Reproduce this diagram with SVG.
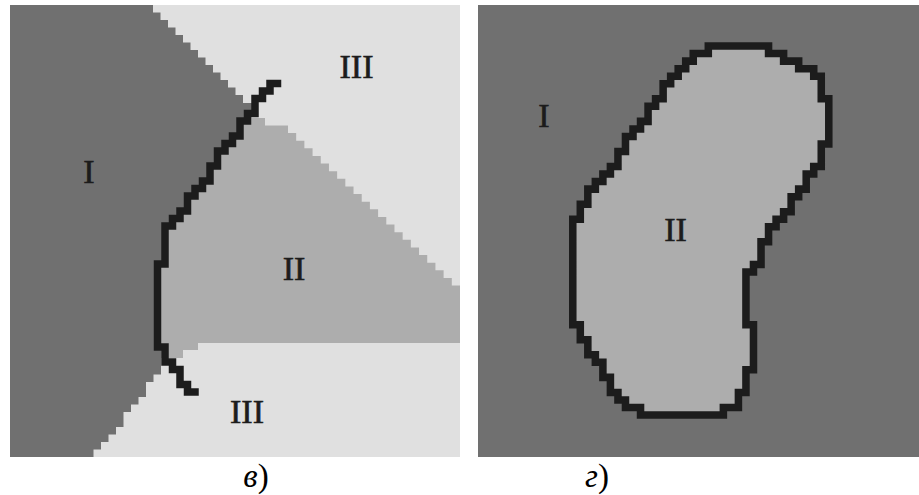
<svg xmlns="http://www.w3.org/2000/svg" width="919" height="495" viewBox="0 0 919 495">
<style>
.dark{fill:#707070}
.mid{fill:#adadad}
.light{fill:#e0e0e0}
.edge{fill:none;stroke:#1c1c1c;stroke-width:7.5;stroke-linejoin:miter;stroke-linecap:square}
.blob{fill:#adadad;stroke:#1c1c1c;stroke-width:1;stroke-linejoin:miter}
.lbl{font-family:"Liberation Serif","Times New Roman",serif;font-size:34px;fill:#1c1c1c;stroke:#1c1c1c;stroke-width:0.6;text-anchor:middle}
.cap{font-family:"Liberation Serif","Times New Roman",serif;font-size:33px;font-style:italic;fill:#000;text-anchor:middle}
.up{font-style:normal}
</style>
<rect width="919" height="495" fill="#ffffff"/>
<g id="panel-v">
  <rect class="light" x="10" y="5" width="450" height="452"/>
  <path id="region-II-left" class="mid" d="M252,118 H265 V125.5 H288 v7.62h8.19v7.62h8.19v7.62h8.19v7.62h8.19v7.62h8.19v7.62h8.19v7.62h8.19v7.62h8.19v7.62h8.19v7.62h8.19v7.62h8.19v7.62h8.19v7.62h8.19v7.62h8.19v7.62h8.19v7.62h8.19v7.62h8.19v7.62h8.19v7.62h8.19v7.62h8.19v7.62h8.19 V343 H198 V350 H183 V358 H150 V255 L240,110 Z"/>
  <path id="region-I-left" class="dark" d="M10,5 H153 V12.5 H160.5 V20 H168 V27.5 H175.5 V35 H183 V42.5 H190.5 V50 H198 V57.5 H205.5 V65 H213 V72.5 H220.5 V80 H228 V87.5 H235.5 V95 H243 V103 H252 V113.5 H247.5 V121 H240 V136 H232.5 V143.5 H225 V151 H217.5 V166 H210 V181 H202.5 V188.5 H195 V196 H187.5 V211 H180 V218.5 H172.5 V226 H165 V264 H157.5 V347 H161 V374.5 H153.5 V382 H146 V397 H138.5 V404.5 H131 V412 H123.5 V427 H116 V434.5 H108.5 V442 H101 V449.5 H93.5 V457 H10 Z"/>
  <path id="boundary-left" class="edge" d="M277.5,83.5 H270 V91 H262.5 V98.5 H255 V113.5 H247.5 V121 H240 V136 H232.5 V143.5 H225 V151 H217.5 V166 H210 V181 H202.5 V188.5 H195 V196 H187.5 V211 H180 V218.5 H172.5 V226 H165 V264 H157.5 V347 H165 V362 H172.5 V369.5 H180 V384.5 H187.5 V392 H195"/>
  <text class="lbl" x="356.5" y="78">III</text>
  <text class="lbl" x="89" y="183">I</text>
  <text class="lbl" x="294" y="280">II</text>
  <text class="lbl" x="247" y="423">III</text>
  <text class="cap" x="256" y="487">в<tspan class="up">)</tspan></text>
</g>
<g id="panel-g">
  <rect class="dark" x="478" y="5" width="441" height="452"/>
  <g transform="translate(569,42.3) scale(7.53)">
    <path id="contour-right" class="blob" d="M18.5,0.5 H26.5 V1.5 H28.5 V2.5 H30.5 V3.5 H32.5 V4.5 H33.5 V7.5 H34.5 V13.5 H33.5 V16.5 H32.5 V17.5 H31.5 V19.5 H30.5 V20.5 H29.5 V22.5 H28.5 V23.5 H27.5 V24.5 H26.5 V26.5 H25.5 V29.5 H24.5 V30.5 H23.5 V37.5 H24.5 V43.5 H23.5 V46.5 H22.5 V48.5 H20.5 V49.5 H9.5 V48.5 H7.5 V47.5 H6.5 V46.5 H5.5 V44.5 H4.5 V42.5 H3.5 V41.5 H2.5 V39.5 H1.5 V37.5 H0.5 V23.5 H1.5 V21.5 H2.5 V19.5 H3.5 V18.5 H4.5 V17.5 H5.5 V16.5 H6.5 V14.5 H7.5 V12.5 H8.5 V11.5 H9.5 V10.5 H10.5 V8.5 H11.5 V7.5 H12.5 V5.5 H13.5 V4.5 H14.5 V3.5 H15.5 V2.5 H16.5 V1.5 H18.5 Z"/>
  </g>
  <text class="lbl" x="544" y="127">I</text>
  <text class="lbl" x="675.5" y="241">II</text>
  <text class="cap" x="597" y="487">г<tspan class="up">)</tspan></text>
</g>
</svg>
